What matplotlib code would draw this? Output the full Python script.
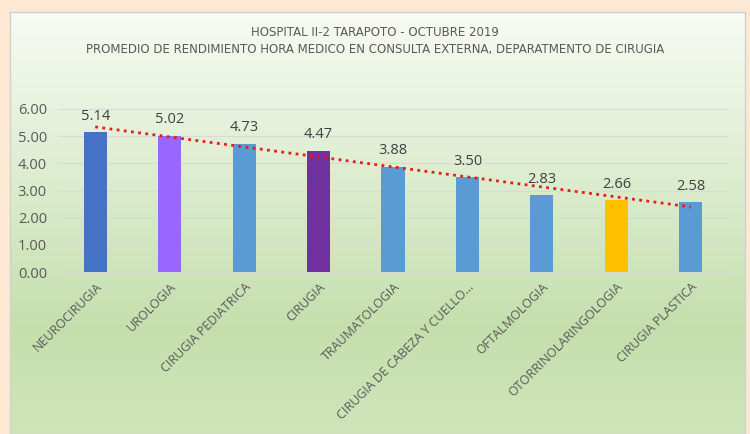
import numpy as np
import matplotlib.pyplot as plt

categories = ["NEUROCIRUGIA", "UROLOGIA", "CIRUGIA PEDIATRICA", "CIRUGIA", "TRAUMATOLOGIA",
              "CIRUGIA DE CABEZA Y CUELLO...", "OFTALMOLOGIA", "OTORRINOLARINGOLOGIA", "CIRUGIA PLASTICA"]
values = [5.14, 5.02, 4.73, 4.47, 3.88, 3.50, 2.83, 2.66, 2.58]
bar_colors = ["#4472C4", "#9966FF", "#5B9BD5", "#7030A0", "#5B9BD5",
              "#5B9BD5", "#5B9BD5", "#FFC000", "#5B9BD5"]
yticks = [0, 1, 2, 3, 4, 5, 6]
title_lines = ["HOSPITAL II-2 TARAPOTO - OCTUBRE 2019",
               "PROMEDIO DE RENDIMIENTO HORA MEDICO EN CONSULTA EXTERNA, DEPARATMENTO DE CIRUGIA"]

W, H = 750, 434
fig = plt.figure(figsize=(W / 100, H / 100), dpi=100)
fig.patch.set_facecolor("#FDE9D3")

# chart panel with gradient
px0, px1, py0, py1 = 10, 745, 12, 434
bg = fig.add_axes([px0 / W, 1 - py1 / H, (px1 - px0) / W, (py1 - py0) / H], zorder=0)
n = 256
t = np.linspace(0, 1, n)
top = np.array([0.97, 0.985, 0.955])
mid = np.array([0.77, 0.875, 0.68])
bot = np.array([0.81, 0.90, 0.73])
cols = np.zeros((n, 3))
for i, tt in enumerate(t):
    if tt < 0.75:
        f = tt / 0.75
        cols[i] = top * (1 - f) + mid * f
    else:
        f = (tt - 0.75) / 0.25
        cols[i] = mid * (1 - f) + bot * f
img = np.repeat(cols[:, None, :], 2, axis=1)
bg.imshow(img, aspect="auto", extent=[0, 1, 0, 1], origin="upper")
bg.set_xlim(0, 1); bg.set_ylim(0, 1)
bg.set_xticks([]); bg.set_yticks([])
for s in bg.spines.values():
    s.set_edgecolor("#D0D0D0")
    s.set_linewidth(1.0)

font = "Open Sans"
gray = "#595959"

ax = fig.add_axes([58 / W, 1 - 272 / H, (728 - 58) / W, (272 - 109) / H], zorder=1)
ax.patch.set_alpha(0)
x = np.arange(len(categories))
ax.bar(x, values, width=0.31, color=bar_colors, zorder=3)
for xi, v in zip(x, values):
    ax.text(xi, v + 0.30, f"{v:.2f}", ha="center", va="bottom", fontsize=10.5,
            color="#404040", family=font)

# linear trendline
coef = np.polyfit(x, values, 1)
xt = np.array([x[0], x[-1]])
ax.plot(xt, np.polyval(coef, xt), linestyle=(0, (1, 1.6)), color="#E8191A", lw=2.0, zorder=4)

ax.set_xlim(-0.5, len(categories) - 0.5)
ax.set_ylim(0, 6)
ax.set_yticks(yticks)
ax.set_yticklabels([f"{v:.2f}" for v in yticks], fontsize=10.5, color=gray, family=font)
ax.set_xticks(x)
ax.set_xticklabels(categories, rotation=45, ha="right", rotation_mode="anchor",
                   fontsize=9, color=gray, family=font)
ax.tick_params(axis="both", length=0)
ax.tick_params(axis="y", pad=8)
ax.tick_params(axis="x", pad=6)
ax.grid(axis="y", color="#D9D9D9", lw=0.8, zorder=0)
for s in ["top", "right", "left"]:
    ax.spines[s].set_visible(False)
ax.spines["bottom"].set_color("#D9D9D9")

fig.text(0.5, 1 - 33 / H, title_lines[0], ha="center", va="center",
         fontsize=8.5, color=gray, family="Liberation Sans Narrow")
fig.text(0.5, 1 - 50 / H, title_lines[1], ha="center", va="center",
         fontsize=8.5, color=gray, family="Liberation Sans Narrow")

fig.savefig("out.png", dpi=100, facecolor=fig.get_facecolor())
